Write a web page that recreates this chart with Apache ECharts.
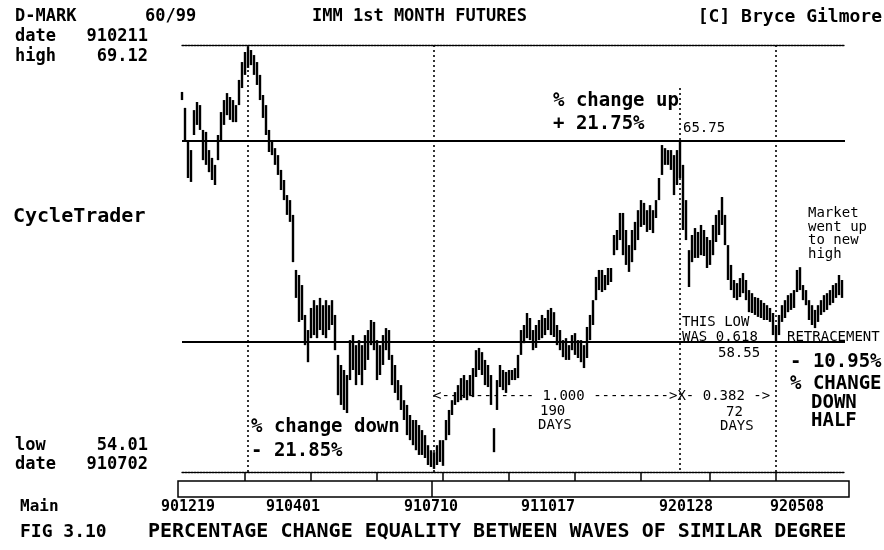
<!DOCTYPE html>
<html><head><meta charset="utf-8">
<script src="https://cdn.jsdelivr.net/npm/echarts@6.0.0/dist/echarts.min.js"></script>
<style>html,body{margin:0;padding:0;background:#fff}#c{width:884px;height:550px}</style>
</head><body><div id="c"></div>
<script>
// D-MARK IMM 1st month futures, daily range bars (sampled), index = bar position
const highs = [
67.50,66.93,65.78,65.42,66.85,67.14,67.03,66.14,66.07,65.42,
65.14,64.89,65.96,66.78,67.21,67.46,67.32,67.21,67.03,67.93,
68.57,68.93,69.12,69.00,68.82,68.57,68.11,67.39,67.03,66.14,
65.78,65.49,65.24,64.71,64.35,63.81,63.63,63.10,61.13,60.95,
60.59,59.52,58.98,59.77,60.05,59.87,60.13,59.87,60.05,59.87,
60.05,59.52,58.09,57.73,57.55,57.37,58.62,58.80,58.44,58.62,
58.44,58.80,58.98,59.34,59.27,58.62,58.44,58.80,59.05,58.98,
58.09,57.73,57.19,57.01,56.47,56.30,55.94,55.76,55.76,55.58,
55.40,55.22,54.86,54.68,54.61,54.86,55.04,55.04,55.76,56.12,
56.47,56.76,57.01,57.26,57.37,57.19,57.37,57.62,58.26,58.34,
58.19,57.91,57.73,57.37,55.47,57.19,57.73,57.55,57.48,57.55,
57.55,57.62,58.09,58.98,59.16,59.59,59.41,58.98,59.16,59.34,
59.52,59.41,59.70,59.77,59.62,59.16,58.98,58.62,58.69,58.44,
58.80,58.87,58.62,58.62,58.44,59.09,59.52,60.05,60.88,61.13,
61.13,60.95,61.20,61.20,62.38,62.56,63.17,63.17,62.56,62.02,
62.56,62.85,63.27,63.63,63.53,63.27,63.45,63.27,63.63,64.42,
65.60,65.49,65.42,65.42,65.24,65.42,65.75,64.89,63.63,61.84,
62.38,62.63,62.49,62.74,62.56,62.31,62.20,62.74,63.10,63.27,
63.74,63.10,62.02,61.31,60.77,60.66,60.84,61.02,60.77,60.41,
60.30,60.16,60.13,60.05,59.95,59.87,59.77,59.59,59.16,59.52,
59.87,60.05,60.23,60.30,60.41,61.13,61.23,60.59,60.41,60.05,
59.87,59.70,59.87,60.05,60.23,60.30,60.41,60.59,60.66,60.95,
60.77];
const lows = [
67.21,65.78,64.42,64.28,65.96,66.32,66.14,65.06,64.89,64.63,
64.35,64.17,65.06,65.78,66.32,66.67,66.50,66.42,66.42,67.03,
67.64,68.11,68.36,68.46,68.11,67.75,67.21,66.57,65.96,65.35,
65.24,64.89,64.53,63.99,63.63,63.10,62.85,61.41,60.13,59.27,
59.34,58.44,57.83,58.69,58.80,58.69,58.98,58.80,58.69,58.98,
59.16,58.26,56.65,56.30,56.12,56.01,57.19,57.55,57.01,57.37,
57.01,57.55,57.91,58.44,58.26,57.19,57.37,57.73,58.26,57.91,
57.01,56.73,56.47,56.12,55.76,55.22,55.04,54.86,54.68,54.51,
54.51,54.40,54.15,54.08,54.01,54.15,54.26,54.12,55.04,55.22,
55.94,56.30,56.40,56.47,56.55,56.47,56.65,56.58,57.30,57.55,
57.37,57.01,56.94,56.30,54.61,56.12,56.94,56.83,56.73,57.01,
57.19,57.19,57.26,58.09,58.51,58.69,58.62,58.26,58.34,58.62,
58.69,58.80,58.98,58.80,58.73,58.44,58.26,58.01,57.91,57.91,
58.26,58.09,57.98,57.83,57.62,57.98,58.62,59.16,60.05,60.41,
60.34,60.41,60.59,60.70,61.66,61.84,62.20,61.66,61.31,61.06,
61.41,61.84,62.20,62.67,62.74,62.49,62.56,62.45,62.99,63.63,
64.53,64.89,64.89,64.71,63.81,64.17,64.42,62.56,62.20,60.52,
61.41,61.56,61.56,61.66,61.63,61.20,61.31,61.66,62.13,62.38,
62.74,62.02,60.77,60.41,60.13,60.05,60.16,60.30,60.05,59.62,
59.59,59.52,59.45,59.41,59.34,59.34,59.27,58.80,58.55,58.80,
59.27,59.41,59.62,59.70,59.77,60.34,60.41,60.05,59.87,59.34,
59.16,59.05,59.27,59.52,59.62,59.70,59.87,59.95,60.13,60.23,
60.13];

const tickPos = [21, 43, 65, 87, 109, 131, 153, 176, 198];
const tickLabels = ['901219', '910401', '910710', '911017', '920128', '920508'];
const tickLabelPos = [2, 37, 83, 122, 168, 205];
const levelUp = 65.75;      // % change up target
const levelDown = 58.55;    // 0.618 retracement low
const pivots = [22, 84, 166, 198];   // high 910211, low 910702, high 65.75, low 58.55
const yMin = 53.9, yMax = 69.18;

const FONT = '"DejaVu Sans Mono"';
const texts = [
  {s:'D-MARK', x:15, y:17, f:'bold 17px'},
  {s:'60/99', x:145, y:17, f:'bold 17px'},
  {s:'date', x:15, y:37, f:'bold 17px'},
  {s:'910211', x:148, y:37, f:'bold 17px', a:'right'},
  {s:'high', x:15, y:57, f:'bold 17px'},
  {s:'69.12', x:148, y:57, f:'bold 17px', a:'right'},
  {s:'IMM 1st MONTH FUTURES', x:312, y:17, f:'bold 17px'},
  {s:'[C] Bryce Gilmore', x:882, y:17, f:'bold 18px', a:'right'},
  {s:'CycleTrader', x:13, y:217, f:'bold 20px'},
  {s:'low', x:15, y:446, f:'bold 17px'},
  {s:'54.01', x:148, y:446, f:'bold 17px', a:'right'},
  {s:'date', x:15, y:465, f:'bold 17px'},
  {s:'910702', x:148, y:465, f:'bold 17px', a:'right'},
  {s:'Main', x:20, y:507, f:'bold 16px'},
  {s:'FIG 3.10', x:20, y:532, f:'bold 18px'},
  {s:'PERCENTAGE CHANGE EQUALITY BETWEEN WAVES OF SIMILAR DEGREE', x:148, y:532, f:'bold 20px'},
  {s:'% change up', x:553, y:101, f:'bold 19px'},
  {s:'+ 21.75%', x:553, y:124, f:'bold 19px'},
  {s:'65.75', x:683, y:128, f:'14px'},
  {s:'THIS LOW', x:682, y:322, f:'14px'},
  {s:'WAS 0.618', x:682, y:337, f:'14px'},
  {s:'RETRACEMENT', x:787, y:337, f:'14px'},
  {s:'58.55', x:718, y:353, f:'14px'},
  {s:'- 10.95%', x:790, y:362, f:'bold 19px'},
  {s:'% CHANGE', x:790, y:384, f:'bold 19px'},
  {s:'DOWN', x:811, y:403, f:'bold 19px'},
  {s:'HALF', x:811, y:421, f:'bold 19px'},
  {s:'Market', x:808, y:213, f:'14px'},
  {s:'went up', x:808, y:227, f:'14px'},
  {s:'to new', x:808, y:240, f:'14px'},
  {s:'high', x:808, y:254, f:'14px'},
  {s:'<----------- 1.000 --------->X- 0.382 ->', x:433, y:396, f:'14px'},
  {s:'190', x:540, y:411, f:'14px'},
  {s:'DAYS', x:538, y:425, f:'14px'},
  {s:'72', x:726, y:412, f:'14px'},
  {s:'DAYS', x:720, y:426, f:'14px'},
  {s:'% change down', x:251, y:427, f:'bold 19px'},
  {s:'- 21.85%', x:251, y:451, f:'bold 19px'}
];

const data = highs.map((h, i) => [i, lows[i], h]);

const dotV = {color:'#000', width:1.6, type:[2, 3]};
function vline(ix, top) {
  return [{coord:[ix, top], lineStyle:dotV}, {coord:[ix, yMin], lineStyle:dotV}];
}

const chart = echarts.init(document.getElementById('c'));
chart.setOption({
  animation: false,
  backgroundColor: '#fff',
  grid: {left:182, right:39, top:45, bottom:78},
  xAxis: [{
    type:'value', min:0, max:221, position:'bottom',
    axisLine:{show:true, onZero:false, lineStyle:{color:'#000', width:1.3, type:[2,1]}},
    axisTick:{show:true, customValues:tickPos, length:9, lineStyle:{color:'#000', width:1.5}},
    axisLabel:{show:true, customValues:tickLabelPos, margin:28, color:'#000',
      fontFamily:'DejaVu Sans Mono', fontWeight:'bold', fontSize:15,
      formatter: v => tickLabels[tickLabelPos.indexOf(v)] || ''},
    splitLine:{show:false}
  }, {
    type:'value', min:0, max:221, position:'top',
    axisLine:{show:true, onZero:false, lineStyle:{color:'#000', width:1.3, type:[2,1]}},
    axisTick:{show:false}, axisLabel:{show:false}, splitLine:{show:false}
  }],
  yAxis: {type:'value', min:yMin, max:yMax, show:false},
  series: [{
    type:'custom',
    xAxisIndex:0,
    encode:{x:0, y:[1,2]},
    data: data,
    renderItem: function (params, api) {
      const a = api.coord([api.value(0), api.value(1)]);
      const b = api.coord([api.value(0), api.value(2)]);
      return {type:'line', shape:{x1:a[0], y1:a[1], x2:b[0], y2:b[1]},
        style:{stroke:'#000', lineWidth:2.4}};
    },
    markLine: {
      silent:true, symbol:'none', label:{show:false}, animation:false,
      data: [
        {yAxis: levelUp, lineStyle:{color:'#000', width:2, type:'solid'}},
        {yAxis: levelDown, lineStyle:{color:'#000', width:2, type:'solid'}},
        vline(pivots[0], yMax),
        vline(pivots[1], yMax),
        vline(pivots[2], 67.64),
        vline(pivots[3], yMax)
      ]
    }
  }],
  graphic: [
    {type:'rect', z:100, shape:{x:178, y:481, width:671, height:16},
      style:{fill:'#fff', stroke:'#000', lineWidth:1.5}},
    {type:'line', z:101, shape:{x1:432, y1:481, x2:432, y2:497},
      style:{stroke:'#000', lineWidth:1.5}}
  ].concat(texts.map(t => ({
    type:'text', x:t.x, y:t.y, z:100,
    style:{text:t.s, font:t.f + ' ' + FONT, fill:'#000', align:t.a || 'left', verticalAlign:'middle'}
  })))
});
</script></body></html>
